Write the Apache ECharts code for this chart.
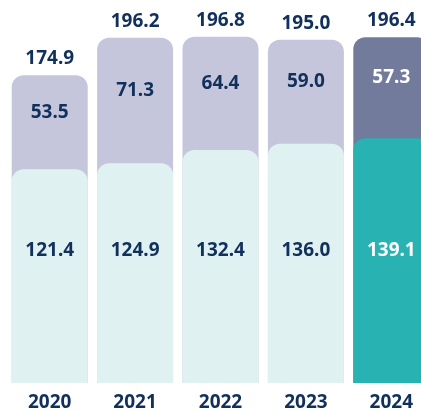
<!DOCTYPE html>
<html>
<head>
<meta charset="utf-8">
<script src="https://cdn.jsdelivr.net/npm/echarts@6/dist/echarts.min.js"></script>
<style>html,body{margin:0;padding:0;background:#fff}#c{width:421px;height:411px}</style>
</head>
<body>
<div id="c"></div>
<script>
const years = ['2020', '2021', '2022', '2023', '2024'];
const bottomValues = [121.4, 124.9, 132.4, 136.0, 139.1];
const topValues = [53.5, 71.3, 64.4, 59.0, 57.3];
const totalValues = [174.9, 196.2, 196.8, 195.0, 196.4];

const NAVY = '#12305c';
const FONT = 'Noto Sans';
const hi = years.length - 1;

const chart = echarts.init(document.getElementById('c'), null, {renderer: 'canvas'});
const lbl = {fontFamily: FONT, fontWeight: 'bold', fontSize: 19, color: NAVY};

const backData = totalValues.map((v, i) => ({
  value: v,
  itemStyle: {color: i === hi ? '#737b9c' : '#c5c6db'}
}));
const frontData = bottomValues.map((v, i) => ({
  value: v,
  itemStyle: {color: i === hi ? '#28b2b2' : '#e0f1f1'},
  label: {color: i === hi ? '#ffffff' : NAVY}
}));
const topLabelData = topValues.map((v, i) => ({
  value: v,
  label: {color: i === hi ? '#ffffff' : NAVY}
}));

chart.setOption({
  animation: false,
  grid: {left: 7, right: -13, top: 31, bottom: 28, outerBoundsMode: 'none', containLabel: false},
  xAxis: {
    type: 'category',
    data: years,
    axisLine: {show: false},
    axisTick: {show: false},
    axisLabel: Object.assign({margin: 10}, lbl)
  },
  yAxis: {type: 'value', min: 0, max: 200, show: false, splitLine: {show: false}},
  series: [
    {
      type: 'bar', data: backData, barWidth: 76, barGap: '-100%', silent: true,
      itemStyle: {borderRadius: [12, 12, 0, 0]},
      label: Object.assign({show: true, position: 'top', distance: 7,
        formatter: p => p.value.toFixed(1)}, lbl)
    },
    {
      type: 'bar', data: frontData, barWidth: 76, barGap: '-100%', silent: true,
      itemStyle: {borderRadius: [12, 12, 0, 0]},
      label: Object.assign({show: true, position: 'insideBottom', distance: 123,
        formatter: p => p.value.toFixed(1)}, lbl)
    },
    {
      type: 'bar', stack: 'lbl', data: bottomValues, barWidth: 76, barGap: '-100%', silent: true,
      itemStyle: {color: 'rgba(0,0,0,0)'}
    },
    {
      type: 'bar', stack: 'lbl', data: topLabelData, barWidth: 76, barGap: '-100%', silent: true,
      itemStyle: {color: 'rgba(0,0,0,0)'},
      label: Object.assign({show: true, position: 'inside', offset: [0, -10],
        formatter: p => p.value.toFixed(1)}, lbl)
    }
  ]
});
</script>
</body>
</html>
